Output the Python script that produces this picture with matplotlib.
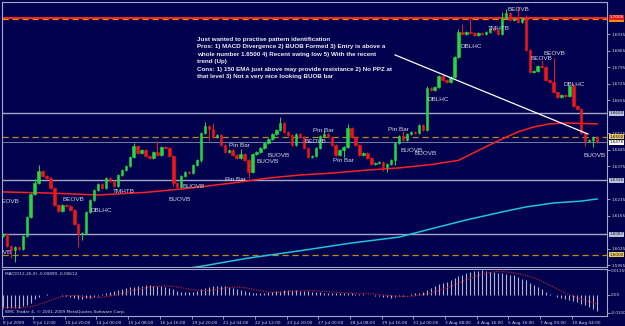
import numpy as np
import matplotlib.pyplot as plt

# GBPUSD H4, 8 Jul - 11 Aug 2009 (each bar opens at the previous close)
first_open = 1.6080
closes = [
    1.6087, 1.6036, 1.6019, 1.6032, 1.6023, 1.6079, 1.6159, 1.6257, 1.6304, 1.6355,
    1.6334, 1.6325, 1.6283, 1.6210, 1.6185, 1.6210, 1.6206, 1.6189, 1.6129, 1.6087,
    1.6091, 1.6181, 1.6232, 1.6274, 1.6300, 1.6283, 1.6325, 1.6312, 1.6291, 1.6338,
    1.6359, 1.6376, 1.6414, 1.6461, 1.6431, 1.6444, 1.6419, 1.6410, 1.6436, 1.6423,
    1.6457, 1.6453, 1.6419, 1.6304, 1.6287, 1.6334, 1.6351, 1.6346, 1.6380, 1.6401,
    1.6516, 1.6546, 1.6533, 1.6499, 1.6508, 1.6465, 1.6436, 1.6444, 1.6423, 1.6410,
    1.6427, 1.6401, 1.6351, 1.6427, 1.6436, 1.6453, 1.6474, 1.6491, 1.6512, 1.6529,
    1.6559, 1.6520, 1.6508, 1.6465, 1.6512, 1.6499, 1.6453, 1.6414, 1.6419, 1.6453,
    1.6504, 1.6512, 1.6499, 1.6465, 1.6423, 1.6444, 1.6457, 1.6537, 1.6499, 1.6465,
    1.6423, 1.6431, 1.6410, 1.6384, 1.6389, 1.6393, 1.6372, 1.6384, 1.6401, 1.6474,
    1.6504, 1.6486, 1.6512, 1.6520, 1.6516, 1.6550, 1.6529, 1.6708, 1.6699, 1.6712,
    1.6759, 1.6742, 1.6733, 1.6754, 1.6839, 1.6946, 1.6937, 1.6946, 1.6941, 1.6933,
    1.6941, 1.6937, 1.6946, 1.6958, 1.6954, 1.6937, 1.7005, 1.7026, 1.6997, 1.7001,
    1.6988, 1.7005, 1.6869, 1.6776, 1.6780, 1.6801, 1.6797, 1.6742, 1.6733, 1.6691,
    1.6669, 1.6678, 1.6674, 1.6717, 1.6631, 1.6618, 1.6516, 1.6482, 1.6486, 1.6499,
    1.6478]
# wick lengths beyond the body, in pips
wick_up = [
    4, 4, 4, 4, 4, 4, 4, 4, 15, 25,
    4, 4, 4, 4, 4, 4, 4, 4, 4, 4,
    4, 4, 4, 4, 4, 4, 4, 4, 4, 4,
    4, 4, 4, 12, 4, 4, 4, 4, 4, 45,
    4, 4, 4, 4, 4, 4, 4, 4, 4, 4,
    4, 17, 4, 25, 4, 4, 4, 4, 4, 4,
    20, 4, 4, 4, 4, 4, 4, 4, 4, 4,
    25, 4, 4, 4, 4, 4, 4, 4, 4, 4,
    4, 15, 4, 4, 4, 4, 4, 17, 4, 4,
    4, 4, 4, 4, 4, 4, 4, 4, 4, 4,
    4, 20, 4, 4, 4, 4, 4, 10, 4, 4,
    4, 4, 4, 4, 4, 12, 35, 4, 60, 4,
    4, 4, 4, 4, 4, 4, 25, 17, 4, 4,
    55, 4, 12, 4, 4, 4, 25, 4, 4, 100,
    4, 4, 4, 4, 10, 4, 4, 4, 4, 4,
    4]
wick_dn = [
    4, 4, 35, 50, 4, 4, 4, 4, 4, 4,
    4, 4, 4, 4, 4, 4, 4, 4, 4, 55,
    25, 4, 4, 4, 4, 4, 4, 4, 4, 4,
    4, 4, 4, 4, 4, 4, 4, 4, 4, 4,
    4, 4, 4, 12, 4, 4, 4, 4, 4, 4,
    8, 4, 50, 4, 4, 4, 4, 4, 4, 4,
    4, 4, 25, 4, 4, 4, 4, 4, 4, 4,
    4, 4, 4, 4, 4, 4, 4, 4, 4, 4,
    4, 4, 4, 4, 4, 4, 30, 4, 4, 4,
    4, 4, 4, 4, 4, 4, 15, 20, 4, 20,
    4, 4, 4, 4, 4, 4, 4, 4, 4, 4,
    4, 4, 4, 4, 4, 4, 4, 4, 4, 4,
    4, 4, 4, 4, 4, 4, 4, 4, 4, 4,
    4, 4, 4, 4, 4, 4, 4, 4, 4, 4,
    4, 4, 4, 4, 4, 4, 4, 20, 4, 30,
    4]

# moving averages, read at a few bars
ema_red_i = [0, 12, 24, 36, 46, 58, 67, 75, 83, 92, 100, 108, 115, 120, 125, 130, 134, 138, 142, 150]
ema_red = [1.6266, 1.6261, 1.6253, 1.6264, 1.6280, 1.6304, 1.6325, 1.6338, 1.6346, 1.6359,
           1.6368, 1.6382, 1.6400, 1.6442, 1.6483, 1.6521, 1.6542, 1.6555, 1.6559, 1.6555]
ema_cyan_i = [40, 50, 62, 75, 88, 100, 109, 117, 126, 132, 139, 146, 150]
ema_cyan = [1.5925, 1.5950, 1.5985, 1.6016, 1.6049, 1.6074, 1.6113, 1.6147, 1.6181,
            1.6202, 1.6219, 1.6227, 1.6236]

# MACD(12,26,9) main line
macd = [
    -0.0070, -0.0071, -0.0072, -0.0072, -0.0070, -0.0064, -0.0055, -0.0044, -0.0025, -0.0010,
    -0.0003, 0.0002, 0.0001, -0.0001, -0.0003, -0.0004, -0.0006, -0.0010, -0.0016, -0.0022,
    -0.0024, -0.0020, -0.0015, -0.0010, -0.0004, 0.0005, 0.0010, 0.0015, 0.0020, 0.0025,
    0.0030, 0.0036, 0.0041, 0.0046, 0.0049, 0.0051, 0.0052, 0.0052, 0.0051, 0.0049,
    0.0047, 0.0044, 0.0040, 0.0032, 0.0024, 0.0018, 0.0015, 0.0015, 0.0018, 0.0023,
    0.0030, 0.0036, 0.0042, 0.0048, 0.0051, 0.0051, 0.0049, 0.0044, 0.0038, 0.0032,
    0.0026, 0.0020, 0.0014, 0.0011, 0.0009, 0.0009, 0.0010, 0.0013, 0.0016, 0.0019,
    0.0023, 0.0025, 0.0026, 0.0026, 0.0025, 0.0024, 0.0022, 0.0020, 0.0017, 0.0014,
    0.0013, 0.0012, 0.0011, 0.0010, 0.0009, 0.0009, 0.0009, 0.0010, 0.0009, 0.0007,
    0.0005, 0.0003, 0.0001, -0.0003, -0.0006, -0.0009, -0.0012, -0.0014, -0.0015, -0.0012,
    -0.0008, -0.0004, 0.0001, 0.0005, 0.0008, 0.0012, 0.0015, 0.0028, 0.0038, 0.0047,
    0.0058, 0.0066, 0.0073, 0.0081, 0.0091, 0.0102, 0.0112, 0.0120, 0.0126, 0.0131,
    0.0134, 0.0135, 0.0132, 0.0129, 0.0126, 0.0122, 0.0119, 0.0115, 0.0112, 0.0108,
    0.0098, 0.0090, 0.0080, 0.0068, 0.0056, 0.0043, 0.0030, 0.0014, 0.0005, -0.0003,
    -0.0012, -0.0019, -0.0025, -0.0030, -0.0035, -0.0040, -0.0048, -0.0058, -0.0068, -0.0080,
    -0.0090]

# pattern labels written on the chart
pat_names = ['BEOVB', 'BUOVB', 'BEOVB', 'DBLHC', 'TMHTB', 'BUOVB', 'BUOVB', 'Pin Bar', 'Pin Bar',
             'BUOVB', 'BUOVB', 'BEOVB', 'Pin Bar', 'Pin Bar', 'Pin Bar', 'BUOVB', 'BUOVB',
             'DBLHC', 'DBLHC', 'TMHTB', 'BEOVB', 'BEOVB', 'BEOVB', 'DBLHC', 'BUOVB']
pat_x = [-1.5, -3.3, 14.9, 22.0, 27.8, 41.7, 45.2, 56.0, 57.0,
         64.0, 66.9, 76.0, 78.3, 83.3, 97.2, 100.3, 104.0,
         107.3, 115.4, 122.5, 127.3, 133.3, 136.4, 141.4, 146.5]
pat_y = [1.6227, 1.6010, 1.6232, 1.6189, 1.6266, 1.6232, 1.6287, 1.6317, 1.6465,
         1.6397, 1.6419, 1.6482, 1.6529, 1.6401, 1.6533, 1.6440, 1.6431,
         1.6657, 1.6886, 1.6962, 1.7043, 1.6831, 1.6856, 1.6721, 1.6419]

note = ("Just wanted to practise pattern identification\n"
        "Pros: 1) MACD Divergence 2) BUOB Formed 3) Entry is above a\n"
        "whole number 1.6500 4) Recent swing low 5) With the recent\n"
        "trend (Up)\n"
        "Cons: 1) 150 EMA just above may provide resistance 2) No PPZ at\n"
        "that level 3) Not a very nice looking BUOB bar")

time_labels = ['8 Jul 2009', '9 Jul 12:00', '10 Jul 20:00', '14 Jul 00:00', '15 Jul 08:00',
               '16 Jul 16:00', '19 Jul 20:00', '21 Jul 04:00', '22 Jul 12:00', '23 Jul 20:00',
               '27 Jul 00:00', '28 Jul 08:00', '29 Jul 16:00', '31 Jul 00:00', '3 Aug 08:00',
               '4 Aug 16:00', '5 Aug 16:00', '7 Aug 00:00', '10 Aug 04:00']

bg = '#00004E'
fg = '#D8D8E4'
grid_c = '#A4A8C4'
bull, bear = '#22D844', '#EE1818'

fig = plt.figure(figsize=(6.25, 3.26), dpi=100, facecolor=bg)
ax = fig.add_axes([2 / 625, 1 - 267 / 326, 605 / 625, 265 / 326], facecolor=bg)
mx = fig.add_axes([2 / 625, 1 - 316 / 326, 605 / 625, 47 / 326], facecolor=bg)

c = np.array(closes)
o = np.concatenate([[first_open], c[:-1]])
hi = np.maximum(o, c) + np.array(wick_up) / 10000
lo = np.minimum(o, c) - np.array(wick_dn) / 10000
x = np.arange(len(c))
col = np.where(c >= o, bull, bear)

# levels
ax.axhline(1.7005, color='#FF2222', lw=1.4, zorder=1)
ax.axhline(1.7000, color='#F08A00', lw=0.9, ls=(0, (5, 3)), zorder=1)
ax.axhline(1.6500, color='#C08A10', lw=0.9, ls=(0, (5, 3)), zorder=1)
ax.axhline(1.6000, color='#C08A10', lw=0.9, ls=(0, (5, 3)), zorder=1)
for lvl in [1.6600, 1.6316, 1.6087]:
    ax.axhline(lvl, color=grid_c, lw=1.0, zorder=1)
ax.axhline(c[-1], color='#8890B0', lw=0.6, zorder=1)

ax.plot(ema_cyan_i, ema_cyan, color='#22C4D8', lw=1.1, zorder=2)
ax.plot(ema_red_i, ema_red, color='#FF2020', lw=1.1, zorder=2)

ax.vlines(x, lo, hi, colors=col, lw=0.7, zorder=3)
ax.bar(x, c - o, bottom=o, width=0.62, color=col, edgecolor=col, linewidth=0.4, zorder=4)

# trend line
ax.plot([99, 147.7], [1.6848, 1.6512], color='white', lw=0.9, zorder=5)

for name, px, py in zip(pat_names, pat_x, pat_y):
    ax.text(px, py, name, color=fg, fontsize=4.6, family='Liberation Sans',
            va='center', ha='left', zorder=6, clip_on=True)

ax.text(49, 1.6925, note, color='#EEEEF4', fontsize=4.5, family='Liberation Sans',
        fontweight='bold', va='top', ha='left', linespacing=1.62, zorder=6)

ax.set_xlim(-0.25, 152.5)
ax.set_ylim(1.5947, 1.7073)
ax.yaxis.tick_right()
ax.set_yticks([1.5955, 1.6025, 1.6165, 1.6235, 1.6375, 1.6445, 1.6515,
               1.6655, 1.6725, 1.6795, 1.6865, 1.6935])
ax.yaxis.set_major_formatter(plt.FormatStrFormatter('%.4f'))
ax.tick_params(axis='y', labelsize=3, colors=fg, length=2, width=0.5, pad=1.2)
ax.set_xticks([])
for s in ax.spines.values():
    s.set_color(grid_c)
    s.set_linewidth(0.8)


def tag(axis, y, txt, fc, tc):
    axis.text(1.0035, y, txt, transform=axis.get_yaxis_transform(), fontsize=3, color=tc,
              va='center', ha='left', clip_on=False, zorder=10,
              bbox=dict(boxstyle='square,pad=0.12', fc=fc, ec='none'))


tag(ax, 1.6999, '1.7000', '#F09010', '#101010')
tag(ax, 1.7009, '1.7005', '#E81818', 'white')
tag(ax, 1.6600, '1.6600', '#B8C4DC', '#101030')
tag(ax, 1.6500, '1.6500', '#E8C860', '#101010')
tag(ax, 1.6478, '1.6478', 'white', '#101010')
tag(ax, 1.6316, '1.6316', '#B8C4DC', '#101030')
tag(ax, 1.6087, '1.6087', '#B8C4DC', '#101030')
tag(ax, 1.6000, '1.6000', '#E8C860', '#101010')

# MACD window
signal = np.array([np.mean(macd[max(0, i - 8):i + 1]) for i in range(len(macd))])
mx.vlines(x, 0, macd, colors='#B4B4C8', lw=0.8)
mx.plot(x, signal, color='#D42020', lw=0.8, ls=(0, (1, 1.2)))
mx.set_xlim(-0.25, 152.5)
mx.set_ylim(-0.0117, 0.0143)
mx.yaxis.tick_right()
mx.set_yticks([-0.01003, 0, 0.01355])
mx.set_yticklabels(['-0.01003', '0.00', '0.01355'])
mx.tick_params(axis='y', labelsize=3, colors=fg, length=2, width=0.5, pad=1.0)
mx.set_xticks([0] + list(np.arange(7.6, 150, 8)))
mx.set_xticklabels(time_labels, ha='left')
mx.tick_params(axis='x', labelsize=3.1, colors=fg, length=2, width=0.5, pad=1.5)
for s in mx.spines.values():
    s.set_color(grid_c)
    s.set_linewidth(0.8)
mx.text(0.005, 0.93, 'MACD(12,26,9) -0.00899 -0.00612', transform=mx.transAxes,
        color=fg, fontsize=3.1, va='top', ha='left')
mx.text(0.005, 0.04, 'WRC Trader 4, \u00a9 2001-2009 MetaQuotes Software Corp.',
        transform=mx.transAxes, color=fg, fontsize=3.1, va='bottom', ha='left')

fig.savefig('out.png', dpi=100, facecolor=bg)
